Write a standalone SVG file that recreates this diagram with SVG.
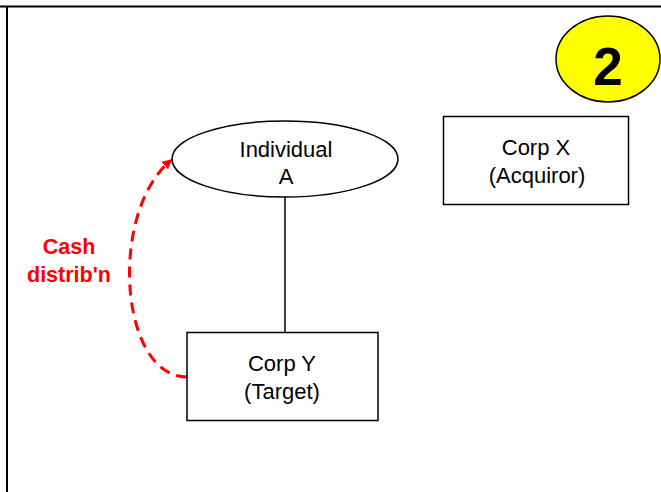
<svg xmlns="http://www.w3.org/2000/svg" width="661" height="492" viewBox="0 0 661 492">
<style>
.lbl{font-family:"Liberation Sans",Arial,sans-serif;font-size:22px;fill:#000;text-anchor:middle}
.box{fill:#fff;stroke:#000;stroke-width:1.5}
.red{font-family:"Liberation Sans",Arial,sans-serif;font-size:21.5px;font-weight:bold;fill:#ff0000;text-anchor:middle}
</style>
<defs>
<marker id="ah" markerWidth="10" markerHeight="10" refX="7" refY="5" orient="auto" markerUnits="userSpaceOnUse" viewBox="0 0 10 10">
<path d="M0,0 L10,5 L0,10 z" fill="#ff0000"/>
</marker>
</defs>
<rect width="661" height="492" fill="#fff"/>
<g id="frame">
<line x1="0" y1="6.5" x2="661" y2="6.5" stroke="#000" stroke-width="2"/>
<line x1="7" y1="6" x2="7" y2="492" stroke="#000" stroke-width="2"/>
</g>
<g id="connectors">
<line x1="285" y1="197" x2="285" y2="332" stroke="#000" stroke-width="1.5"/>
<path d="M187,377 C120,377 108,215 170,161" fill="none" stroke="#ff0000" stroke-width="3" stroke-dasharray="11,7" marker-end="url(#ah)"/>
</g>
<g id="badge">
<ellipse cx="608" cy="59" rx="52" ry="43" fill="#ffff00" stroke="#000" stroke-width="1.5"/>
<text x="608" y="85" font-family="Liberation Sans,Arial,sans-serif" font-size="53" font-weight="bold" text-anchor="middle">2</text>
</g>
<g id="individualA">
<ellipse cx="285" cy="159" rx="113" ry="38" class="box"/>
<text x="286" y="157" class="lbl">Individual</text>
<text x="286" y="184" class="lbl">A</text>
</g>
<g id="corpX">
<rect x="443.5" y="116.5" width="185" height="88" class="box"/>
<text x="536" y="155" class="lbl">Corp X</text>
<text x="537" y="183" class="lbl">(Acquiror)</text>
</g>
<g id="corpY">
<rect x="187" y="332.5" width="191" height="88" class="box"/>
<text x="282" y="371" class="lbl">Corp Y</text>
<text x="282" y="399" class="lbl">(Target)</text>
</g>
<g id="cashLabel">
<text x="69" y="254" class="red">Cash</text>
<text x="69" y="282" class="red">distrib'n</text>
</g>
</svg>
